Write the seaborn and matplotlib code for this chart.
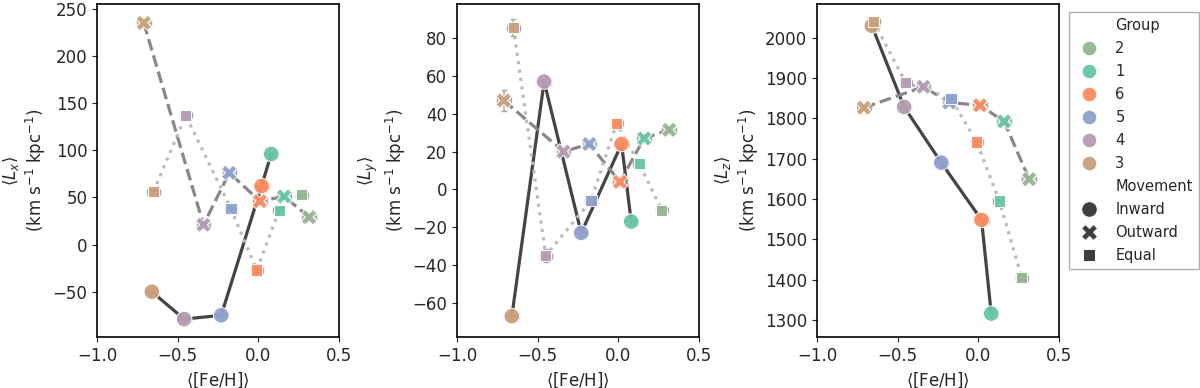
import pandas as pd
import numpy as np
import matplotlib
matplotlib.use('Agg')
import matplotlib.pyplot as plt
import seaborn as sns

# --- data ---
groups_in  = ['3', '4', '5', '6', '1']
groups_all = ['3', '4', '5', '6', '1', '2']

feh_in  = [-0.66, -0.46, -0.23, 0.02, 0.08]
feh_out = [-0.71, -0.34, -0.18, 0.01, 0.16, 0.315]
feh_eq  = [-0.65, -0.45, -0.17, -0.01, 0.13, 0.27]

lx_in  = [-50, -79, -75, 62, 96]
lx_out = [235, 21, 76, 46, 51, 29]
lx_eq  = [56, 137, 38, -27, 36.5, 53]

ly_in  = [-67, 57, -23, 24, -17]
ly_out = [47, 20, 24, 4, 27, 31.5]
ly_eq  = [85.5, -35, -6, 35, 13.5, -11]

lz_in  = [2029, 1828, 1690, 1548, 1316]
lz_out = [1826, 1878, 1839, 1832, 1792, 1649]
lz_eq  = [2040, 1888, 1849, 1741, 1595, 1405]

feh_err_in  = [0.045, 0.045, 0.045, 0.045, 0.045]
feh_err_out = [0.042, 0.042, 0.042, 0.042, 0.042, 0.042]
feh_err_eq  = [0.038, 0.038, 0.038, 0.038, 0.038, 0.038]

lx_err_in  = [2, 2, 2, 2, 2]
lx_err_out = [4, 2, 2, 2, 2, 2]
lx_err_eq  = [2, 4, 2, 2, 2, 2]
ly_err_in  = [1.5, 1.5, 1.5, 1.5, 1.5]
ly_err_out = [5.5, 1.5, 1.5, 1.5, 1.5, 1.5]
ly_err_eq  = [4.5, 3.5, 1.5, 1.5, 1.5, 1.5]
lz_err_in  = [6, 6, 6, 6, 6]
lz_err_out = [6, 6, 6, 6, 6, 6]
lz_err_eq  = [7, 6, 6, 6, 6, 6]

hue_order = ['2', '1', '6', '5', '4', '3']
palette = {'2': '#96b493', '1': '#66c5a5', '6': '#fc8b5e',
           '5': '#8ea1cc', '4': '#b49cb1', '3': '#c9a07a'}
movements = ['Inward', 'Outward', 'Equal']

rows = []
for mv, grp, fe, fee, lx, lxe, ly, lye, lz, lze in [
        ('Inward', groups_in, feh_in, feh_err_in, lx_in, lx_err_in, ly_in, ly_err_in, lz_in, lz_err_in),
        ('Outward', groups_all, feh_out, feh_err_out, lx_out, lx_err_out, ly_out, ly_err_out, lz_out, lz_err_out),
        ('Equal', groups_all, feh_eq, feh_err_eq, lx_eq, lx_err_eq, ly_eq, ly_err_eq, lz_eq, lz_err_eq)]:
    for i in range(len(grp)):
        rows.append({'Group': grp[i], 'Movement': mv, 'feh': fe[i], 'feh_err': fee[i],
                     'Lx': lx[i], 'Lx_err': lxe[i], 'Ly': ly[i], 'Ly_err': lye[i],
                     'Lz': lz[i], 'Lz_err': lze[i]})
df = pd.DataFrame(rows)

line_style = {'Inward': ('#444444', '-'), 'Outward': ('#888888', '--'), 'Equal': ('#bbbbbb', ':')}

sns.set_style('ticks')
plt.rcParams['font.family'] = ['DejaVu Sans']

fig = plt.figure(figsize=(12, 3.88), dpi=100)
lefts = [97, 457, 817]
panels = [('Lx', r'$\langle L_x \rangle$', (-98, 255)),
          ('Ly', r'$\langle L_y \rangle$', (-78, 98)),
          ('Lz', r'$\langle L_z \rangle$', (1258, 2083))]

for k, (col, lab, ylim) in enumerate(panels):
    ax = fig.add_axes([lefts[k] / 1200, 51 / 388, 242 / 1200, 333 / 388])
    for mv in movements:
        sub = df[df['Movement'] == mv]
        c, ls = line_style[mv]
        sns.lineplot(data=sub, x='feh', y=col, sort=False, estimator=None,
                     color=c, linestyle=ls, lw=2.3, ax=ax, zorder=1)
        ax.errorbar(sub['feh'], sub[col], xerr=sub['feh_err'], yerr=sub[col + '_err'],
                    fmt='none', ecolor='#aaaaaa', elinewidth=1.1, capsize=2.5, zorder=2)
    sns.scatterplot(data=df, x='feh', y=col, hue='Group', hue_order=hue_order,
                    palette=palette, style='Movement', style_order=movements,
                    markers={'Inward': 'o', 'Outward': 'X', 'Equal': 's'},
                    size='Movement', size_order=movements,
                    sizes={'Inward': 125, 'Outward': 125, 'Equal': 65},
                    edgecolor='white', linewidth=0.7, alpha=0.95,
                    ax=ax, zorder=3, legend=(k == 2))
    ax.set_xlim(-1.0, 0.5)
    ax.set_xticks([-1.0, -0.5, 0.0, 0.5])
    ax.set_ylim(*ylim)
    ax.set_xlabel(r'$\langle$[Fe/H]$\rangle$', fontsize=12)
    ax.set_ylabel(lab + '\n' + r'(km s$^{-1}$ kpc$^{-1}$)', fontsize=12, labelpad=3)
    ax.tick_params(labelsize=12)
    for sp in ax.spines.values():
        sp.set_linewidth(1.2)
        sp.set_color('black')
    if k == 2:
        leg = ax.legend(loc='upper left', bbox_to_anchor=(1.04, 0.976), borderaxespad=0,
                        fontsize=10.5, labelspacing=0.55, frameon=True, fancybox=False)
        leg.get_frame().set_edgecolor('#999999')
        for h, t in zip(leg.legend_handles, leg.get_texts()):
            if t.get_text() in hue_order:
                h.set_markersize(10.5)

plt.savefig('out.png', dpi=100)
plt.close()
